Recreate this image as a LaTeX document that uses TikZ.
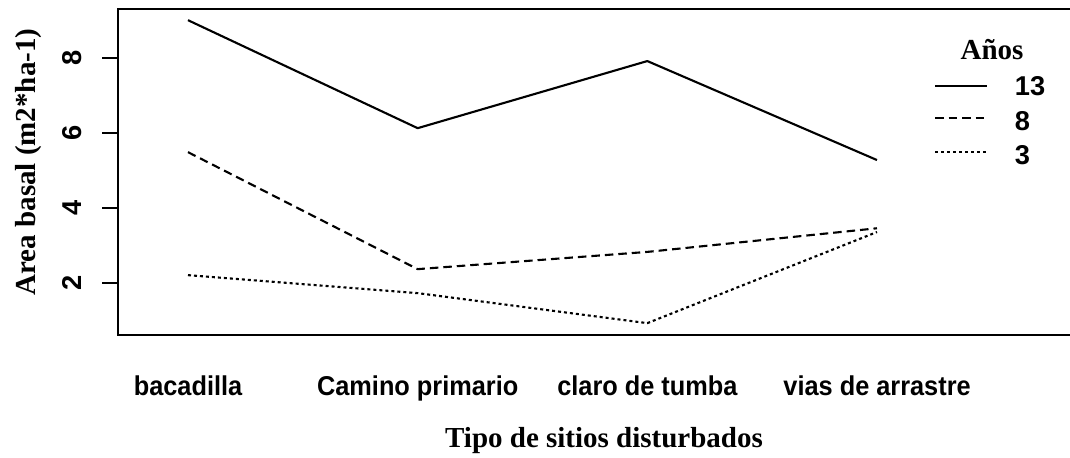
\documentclass[tikz,border=0pt]{standalone}
\usepackage{fontspec}
\setmainfont{Liberation Serif}
\setsansfont{Liberation Sans}
\newfontfamily\narrowsf[FakeStretch=0.93]{Liberation Sans}
\begin{document}
\begin{tikzpicture}[x=0.02cm,y=0.02cm,
  ticklab/.style={font=\sffamily\bfseries\fontsize{15.5}{18}\selectfont},
  catlab/.style={font=\narrowsf\bfseries\fontsize{15.5}{18}\selectfont,anchor=base},
  titlab/.style={font=\rmfamily\bfseries\fontsize{16.5}{20}\selectfont},
  serie/.style={line width=1.2pt,line join=round},
  dashserie/.style={serie,dash pattern=on 0.17cm off 0.1cm},
  dotserie/.style={serie,dash pattern=on 0.06cm off 0.06cm}]
\useasboundingbox (0,0) rectangle (1070,457);

% Box (right side falls outside the figure)
\draw[line width=1.5pt] (1070,448) -- (118,448) -- (118,122) -- (1070,122);

% Y axis ticks and labels
\foreach \v in {2,4,6,8} {
  \draw[line width=1.1pt] (102,{99+37.5*\v}) -- (118,{99+37.5*\v});
  \node[ticklab,rotate=90] (tick\v) at (72,{99+37.5*\v}) {\v};
}

% Series
\begin{scope}[shift={(188,99)},x=4.594cm,y=0.75cm]
  \draw[serie] (0,9.01) -- (1,6.13) -- (2,7.92) -- (3,5.28);
  \draw[dashserie] (0,5.49) -- (1,2.37) -- (2,2.83) -- (3,3.46);
  \draw[dotserie] (0,2.21) -- (1,1.73) -- (2,0.93) -- (3,3.36);
\end{scope}

% Categories
\foreach \name/\lab [count=\i from 0] in {bac/bacadilla,cam/Camino primario,cla/claro de tumba,via/vias de arrastre}
  \node[catlab] (\name) at ({188+229.7*\i},62) {\lab};

% Axis titles
\node[titlab,anchor=base] (xtit) at (604,10) {Tipo de sitios disturbados};
\node[titlab,rotate=90] (ytit) at (29,295) {Area basal (m2*ha-1)};

% Legend
\node[titlab,anchor=base] (legtit) at (992,397) {Años};
\coordinate (l13) at (935,371);
\coordinate (l8) at (935,339);
\coordinate (l3) at (935,305);
\draw[serie] (l13) -- ++(52,0) node[ticklab,anchor=west,xshift=0.42cm] (n13) {13};
\draw[dashserie] (l8) -- ++(52,0) node[ticklab,anchor=west,xshift=0.42cm,yshift=-2] (n8) {8};
\draw[dotserie] (l3) -- ++(52,0) node[ticklab,anchor=west,xshift=0.42cm,yshift=-2] (n3) {3};
\end{tikzpicture}
\end{document}
